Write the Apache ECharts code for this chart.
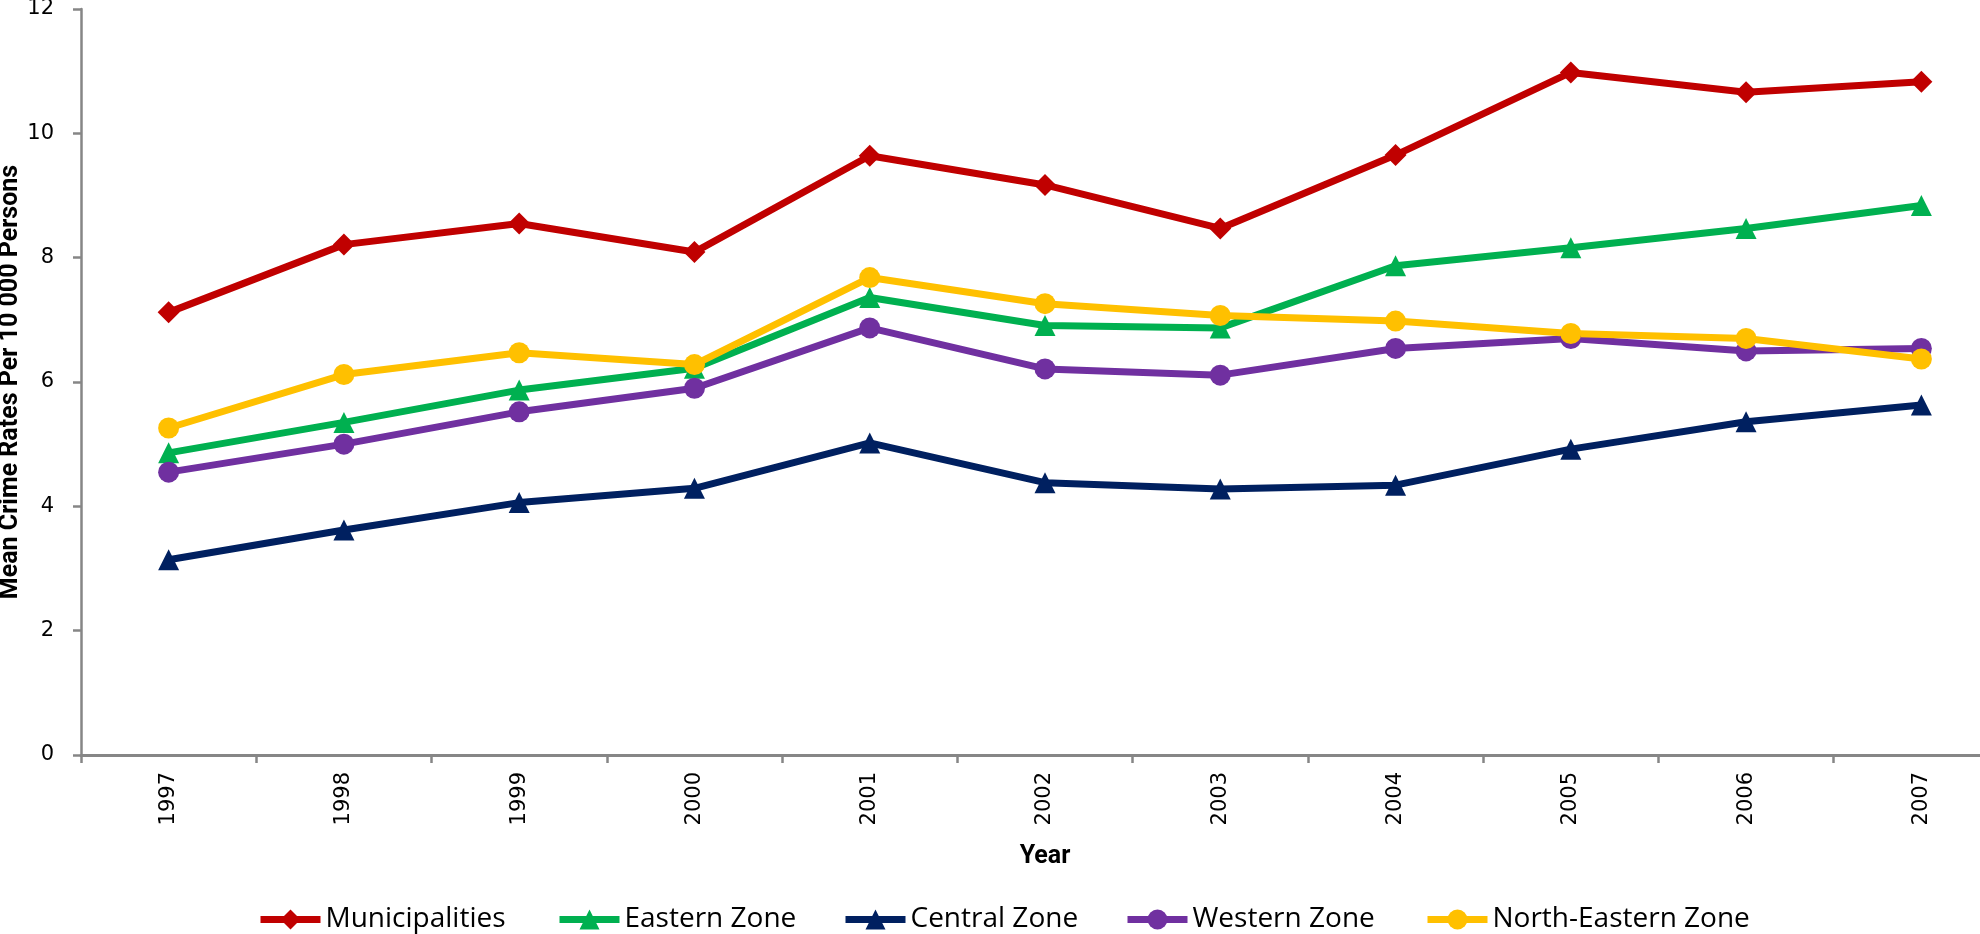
<!DOCTYPE html>
<html>
<head>
<meta charset="utf-8">
<script src="https://cdn.jsdelivr.net/npm/echarts@6/dist/echarts.min.js"></script>
<style>
html,body{margin:0;padding:0;background:#fff;}
#chart{width:1980px;height:934px;}
</style>
</head>
<body>
<div id="chart"></div>
<script>
const years = ['1997','1998','1999','2000','2001','2002','2003','2004','2005','2006','2007'];
const municipalities = [7.12, 8.21, 8.55, 8.09, 9.64, 9.17, 8.47, 9.65, 10.98, 10.66, 10.83];
const easternZone    = [4.86, 5.35, 5.87, 6.22, 7.36, 6.91, 6.87, 7.87, 8.16, 8.47, 8.84];
const centralZone    = [3.14, 3.62, 4.06, 4.29, 5.02, 4.38, 4.28, 4.34, 4.92, 5.36, 5.63];
const westernZone    = [4.55, 5.00, 5.52, 5.90, 6.87, 6.21, 6.11, 6.54, 6.70, 6.50, 6.54];
const northEastern   = [5.26, 6.12, 6.47, 6.28, 7.68, 7.26, 7.07, 6.98, 6.78, 6.70, 6.37];
const yTicks = [0, 2, 4, 6, 8, 10, 12];

const seriesDefs = [
  {name:'Municipalities', data:municipalities, color:'#C00000', symbol:'diamond', size:22},
  {name:'Eastern Zone', data:easternZone, color:'#00B050', symbol:'triangle', size:21},
  {name:'Central Zone', data:centralZone, color:'#002060', symbol:'triangle', size:21},
  {name:'Western Zone', data:westernZone, color:'#7030A0', symbol:'circle', size:21},
  {name:'North-Eastern Zone', data:northEastern, color:'#FFC000', symbol:'circle', size:21}
];
const legendLefts = [257, 556, 842, 1124, 1424];

const chart = echarts.init(document.getElementById('chart'), null, {renderer:'canvas'});
const axisGray = '#868686';
const titleFont = {fontFamily:'Roboto', fontWeight:'bold', fontSize:25, color:'#000'};
const option = {
  animation:false,
  backgroundColor:'#ffffff',
  grid:{left:81, top:9, width:1928, height:746, containLabel:false, outerBoundsMode:'none'},
  legend: seriesDefs.map((s,i)=>({
    data:[s.name], left:legendLefts[i], top:905.5, orient:'horizontal',
    itemWidth:60, itemHeight:25, itemGap:0, padding:0,
    textStyle:{fontFamily:'Open Sans', fontSize:28, lineHeight:25, color:'#000'},
    lineStyle:{width:7}
  })),
  xAxis:{
    type:'category', data:years, boundaryGap:true,
    name:'Year', nameLocation:'middle', nameGap:89,
    nameTextStyle:titleFont,
    axisLine:{lineStyle:{color:axisGray, width:3}},
    axisTick:{show:true, length:8, alignWithLabel:false, lineStyle:{color:axisGray, width:2.5}},
    axisLabel:{rotate:90, margin:17, fontFamily:'DejaVu Sans', fontSize:21, color:'#000', interval:0},
    splitLine:{show:false}
  },
  yAxis:{
    type:'value', min:0, max:12, interval:2,
    name:'Mean Crime Rates Per 10 000 Persons', nameLocation:'middle', nameGap:58,
    nameMoveOverlap:false,
    nameTextStyle:titleFont,
    axisLine:{show:true, lineStyle:{color:axisGray, width:2.5}},
    axisTick:{show:true, length:8, lineStyle:{color:axisGray, width:2.5}},
    axisLabel:{margin:27, fontFamily:'DejaVu Sans', fontSize:21, color:'#000',
      formatter:(v)=> yTicks.includes(v) ? String(v) : ''},
    splitLine:{show:false}
  },
  series: seriesDefs.map(s=>({
    name:s.name, type:'line', data:s.data,
    symbol:s.symbol, symbolSize:s.size,
    lineStyle:{color:s.color, width:7},
    itemStyle:{color:s.color},
    emphasis:{disabled:true}
  }))
};
chart.setOption(option);
</script>
</body>
</html>
